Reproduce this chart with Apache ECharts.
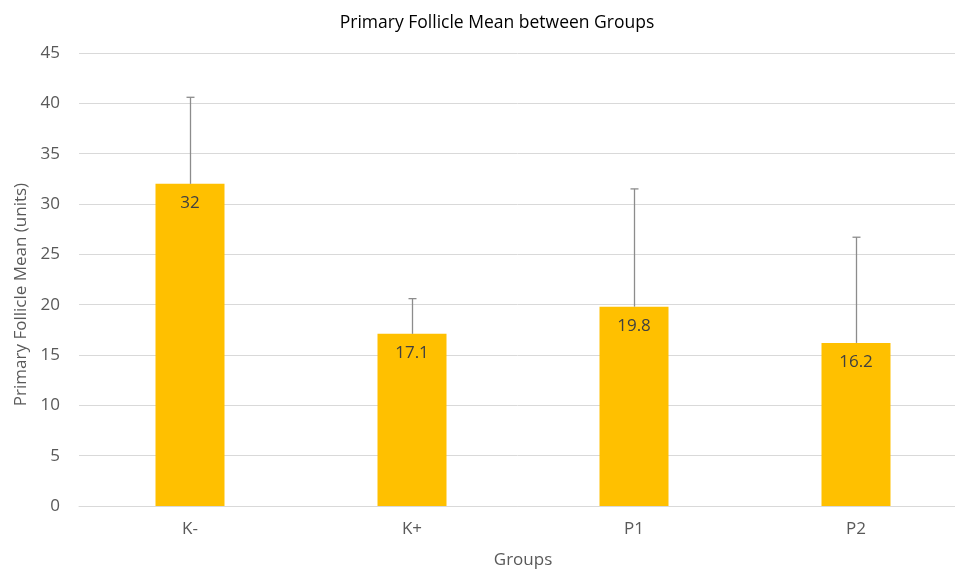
<!DOCTYPE html>
<html><head><meta charset="utf-8">
<script src="https://cdn.jsdelivr.net/npm/echarts@6/dist/echarts.min.js"></script>
<style>html,body{margin:0;padding:0;background:#fff}#c{width:955px;height:569px}</style>
</head><body><div id="c"></div>
<script>
var categories = ['K-', 'K+', 'P1', 'P2'];
var means = [32, 17.1, 19.8, 16.2];
var errorTops = [40.6, 20.6, 31.5, 26.7];
var yTicks = [0, 5, 10, 15, 20, 25, 30, 35, 40, 45];

var chart = echarts.init(document.getElementById('c'));
var font = '"Open Sans", "Noto Sans", sans-serif';
chart.setOption({
  animation: false,
  title: {
    text: 'Primary Follicle Mean between Groups',
    left: 492, top: 9, textAlign: 'center',
    textStyle: { fontFamily: font, fontSize: 17.5, fontWeight: 'normal', color: '#000' }
  },
  grid: { left: 79, top: 53, width: 888, height: 453, containLabel: false, outerBoundsMode: 'none' },
  xAxis: {
    type: 'category', data: categories,
    name: 'Groups', nameLocation: 'middle', nameGap: 46,
    nameTextStyle: { fontFamily: font, fontSize: 17, color: '#595959' },
    axisLine: { lineStyle: { color: '#d9d9d9' } },
    axisTick: { show: false },
    axisLabel: { fontFamily: font, fontSize: 17, color: '#595959', margin: 15 }
  },
  yAxis: {
    type: 'value', min: yTicks[0], max: yTicks[yTicks.length - 1], interval: 5,
    name: 'Primary Follicle Mean (units)', nameLocation: 'middle', nameGap: 46,
    nameTextStyle: { fontFamily: font, fontSize: 17, color: '#595959', padding: [0, 30, 0, 0] },
    axisLine: { show: false }, axisTick: { show: false },
    axisLabel: { fontFamily: font, fontSize: 17, color: '#595959', margin: 19 },
    splitLine: { lineStyle: { color: '#d9d9d9' } }
  },
  series: [{
    type: 'bar', data: means, barWidth: 69,
    itemStyle: { color: '#ffc000' },
    label: { show: true, position: 'insideTop', distance: 11, fontFamily: font, fontSize: 17, color: '#404040' }
  }, {
    type: 'custom',
    data: categories.map(function (c, i) { return [i, means[i], errorTops[i]]; }),
    renderItem: function (params, api) {
      var lo = api.coord([api.value(0), api.value(1)]);
      var hi = api.coord([api.value(0), api.value(2)]);
      var x = Math.round(lo[0]) + 0.5;
      var style = { stroke: '#8c8c8c', lineWidth: 1.3 };
      return { type: 'group', children: [
        { type: 'line', shape: { x1: x, y1: lo[1], x2: x, y2: hi[1] }, style: style },
        { type: 'line', shape: { x1: x - 4, y1: hi[1], x2: x + 4, y2: hi[1] }, style: style }
      ] };
    },
    z: 5
  }]
});
</script></body></html>
